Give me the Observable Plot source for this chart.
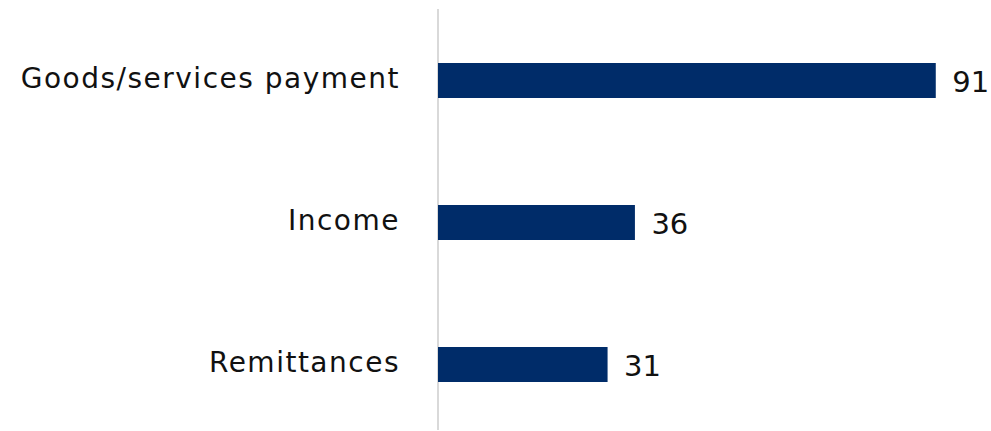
<!DOCTYPE html>
<html>
<head>
<meta charset="utf-8">
<script src="https://cdn.jsdelivr.net/npm/d3@7"></script>
<script src="https://cdn.jsdelivr.net/npm/@observablehq/plot@0.6"></script>
<style>
  html, body { margin: 0; padding: 0; background: #fff; }
  #chart svg { display: block; }
  #chart g[aria-label="y-axis tick label"] text { letter-spacing: 1.5px; }
</style>
</head>
<body>
<div id="chart"></div>
<script>
const categories = ["Goods/services payment", "Income", "Remittances"];
const values = [91, 36, 31];

const data = categories.map((c, i) => ({category: c, value: values[i]}));

const chart = Plot.plot({
  width: 991,
  height: 431,
  marginLeft: 438,
  marginRight: 6,
  marginTop: 9,
  marginBottom: 1,
  style: {fontFamily: "DejaVu Sans", background: "#fff", overflow: "visible"},
  x: {domain: [0, 100], axis: null},
  y: {domain: categories, paddingInner: 0.755, paddingOuter: 0.355, align: 0.527, label: null},
  marks: [
    Plot.ruleX([0], {stroke: "#d9d9d9", strokeWidth: 2, dx: -0.5}),
    Plot.barX(data, {x: "value", y: "category", fill: "#002c69"}),
    Plot.text(data, {x: "value", y: "category", text: d => String(d.value), textAnchor: "start", dx: 16, dy: 2, fontSize: 29, fontWeight: 500, fill: "#111"}),
    Plot.axisY({tickSize: 0, tickPadding: 38.5, fontSize: 28, dy: -2, fill: "#111", label: null})
  ]
});
document.getElementById("chart").appendChild(chart);
</script>
</body>
</html>
